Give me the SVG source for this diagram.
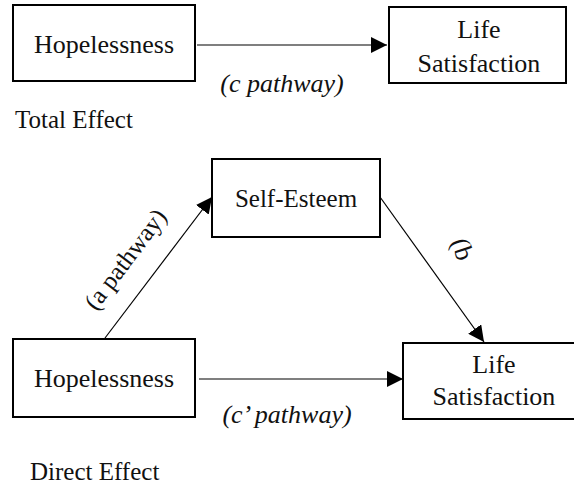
<svg xmlns="http://www.w3.org/2000/svg" width="574" height="489" viewBox="0 0 574 489" font-family="'Liberation Serif', 'Times New Roman', serif">
<style>
.box{fill:#fff;stroke:#000;stroke-width:2}
text{font-family:"Liberation Serif","Times New Roman",serif;font-size:26px;fill:#111}
.i{font-style:italic}
.c{text-anchor:middle}
.s{font-size:25px}
.ln{stroke:#000;stroke-width:1.2;fill:none}
</style>
<defs>
<marker id="ah" markerWidth="16" markerHeight="16" viewBox="0 0 16 16" refX="16" refY="8" orient="auto" markerUnits="userSpaceOnUse">
<path d="M0,0 L16,8 L0,16 Z" fill="#000"/>
</marker>
</defs>
<rect width="574" height="489" fill="#fff"/>
<g id="connectors">
<line class="ln" x1="197" y1="45" x2="387" y2="45" marker-end="url(#ah)"/>
<line class="ln" x1="105" y1="338" x2="212" y2="197" marker-end="url(#ah)"/>
<line class="ln" x1="380" y1="197" x2="484" y2="342" marker-end="url(#ah)"/>
<line class="ln" x1="199" y1="379" x2="403" y2="379" marker-end="url(#ah)"/>
</g>
<g id="hopelessness-top">
<rect class="box" x="13" y="5" width="182" height="76"/>
<text class="c" x="104" y="53">Hopelessness</text>
</g>
<g id="life-satisfaction-top">
<rect class="box" x="389" y="7" width="177" height="76"/>
<text class="c" x="479" y="38">Life</text>
<text class="c" x="479" y="72">Satisfaction</text>
</g>
<g id="self-esteem">
<rect class="box" x="212" y="159" width="168" height="78"/>
<text class="c s" x="296" y="207">Self-Esteem</text>
</g>
<g id="hopelessness-bottom">
<rect class="box" x="13" y="339" width="182" height="78"/>
<text class="c" x="104" y="387">Hopelessness</text>
</g>
<g id="life-satisfaction-bottom">
<rect class="box" x="403" y="343" width="180" height="76"/>
<text class="c" x="494" y="373">Life</text>
<text class="c" x="494" y="405">Satisfaction</text>
</g>
<g id="labels">
<text class="i c" x="282" y="92">(c pathway)</text>
<text class="s" x="15" y="128">Total Effect</text>
<text class="c s" transform="translate(125,259) rotate(-53)" dy="0.35em">(a pathway)</text>
<text class="c" transform="translate(463,249) rotate(72)" dy="0.35em">(b</text>
<text class="i c" x="287" y="423">(c’ pathway)</text>
<text class="s" x="30" y="480">Direct Effect</text>
</g>
</svg>
